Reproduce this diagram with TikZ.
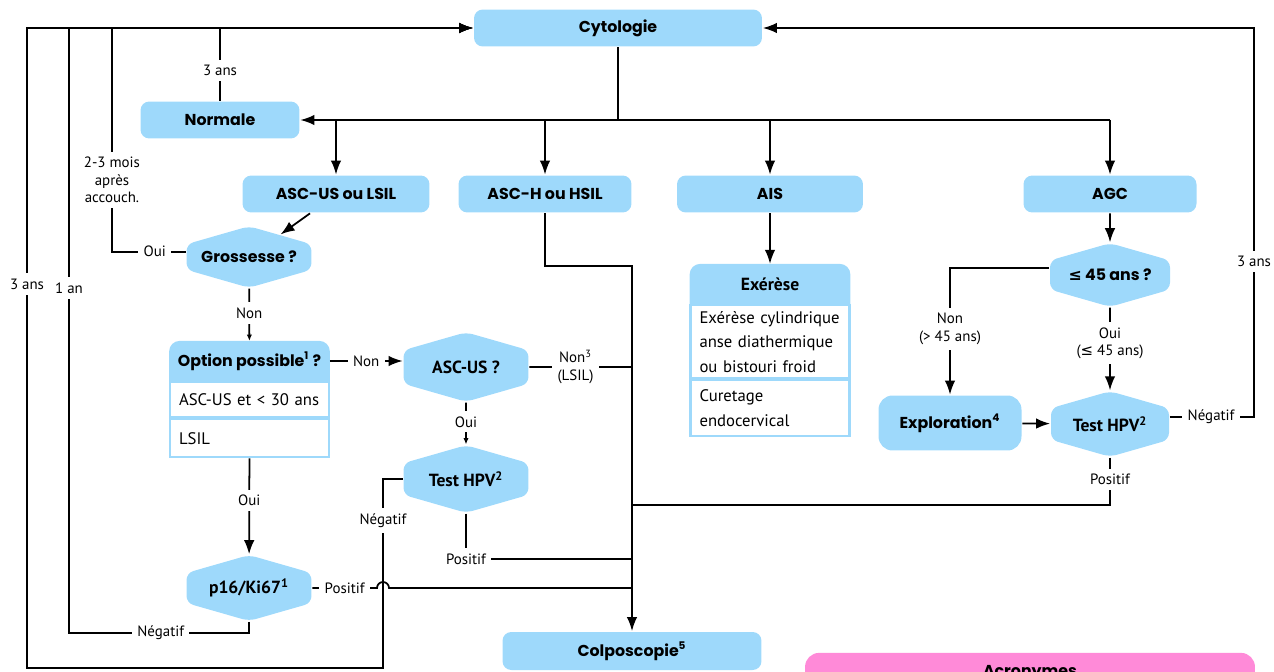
\documentclass[tikz,border=0pt]{standalone}
\usepackage{fontspec}
\setmainfont{PT Sans}
\newfontfamily\geofont{Poppins}
\newfontfamily\dejavu{DejaVu Sans}
\usetikzlibrary{arrows.meta,shapes.symbols,backgrounds}
\definecolor{cytoblue}{HTML}{9ED9FB}
\definecolor{acropink}{HTML}{FF8AD8}
\newcommand{\geobf}{\geofont\bfseries\fontsize{9}{11}\selectfont}
\newcommand{\condbf}{\bfseries\fontsize{10}{12}\selectfont}
\newcommand{\lblfont}{\fontsize{8.5}{10}\selectfont}
\newcommand{\rowfont}{\fontsize{9.5}{14}\selectfont}
\newcommand{\lesym}{{\dejavu ≤}}

\begin{document}
\begin{tikzpicture}[x=0.02cm, y=-0.02cm, line width=1pt]
\tikzstyle{box}=[fill=cytoblue, rounded corners=5pt, inner sep=0pt, minimum height=0.74cm, font=\geobf]
\tikzstyle{hexa}=[shape=signal, signal to=north and south, signal pointer angle=148, fill=cytoblue, rounded corners=4pt, inner sep=0pt, minimum width=2.5cm, minimum height=1.06cm, font=\condbf]
\tikzstyle{headbox}=[inner sep=0pt, minimum height=0.77cm]
\tikzstyle{rowbox}=[draw=cytoblue, line width=1.2pt, anchor=north, inner xsep=0.18cm, text width=2.82cm, align=left, font=\rowfont]
\tikzstyle{lbl}=[fill=white, inner sep=3pt, align=center, font=\lblfont]
\tikzstyle{arr}=[-{Latex[length=8pt,width=6pt]}]
\tikzstyle{arrs}=[-{Latex[length=3.5pt,width=3pt]}]
\useasboundingbox (0,0) rectangle (1274,672);

% boxes
\node[box, minimum width=5.76cm] (cyto) at (618,28) {Cytologie};
\node[box, minimum width=3.18cm] (normale) at (220,120) {Normale};
\foreach \place/\name/\txt/\boxw in {{(336,194)/ascus/ASC-US ou LSIL/3.74cm},
                                     {(545,194)/asch/ASC-H ou HSIL/3.46cm},
                                     {(770,194)/ais/AIS/3.72cm},
                                     {(1110,194)/agc/AGC/3.46cm}}
  \node[box, minimum width=\boxw] (\name) at \place {\txt};
\node[box, minimum width=2.86cm, minimum height=1.1cm, rounded corners=8pt] (exploration) at (950,423) {Exploration\textsuperscript{4}};
\node[box, minimum width=5.18cm, minimum height=0.76cm] (colpo) at (632,651) {Colposcopie\textsuperscript{5}};
\node[fill=acropink, rounded corners=8pt, anchor=north, minimum width=9cm, inner ysep=7pt, font=\geobf] (acro) at (1030,652) {Acronymes};

% decisions
\node[hexa, font=\geobf] (gross) at (249,257) {Grossesse ?};
\node[hexa] (ascusq) at (466,367) {ASC-US ?};
\node[hexa] (hpvmid) at (466,479) {Test HPV\textsuperscript{2}};
\node[hexa] (p16) at (249,588) {p16/Ki67\textsuperscript{1}};
\node[hexa, font=\geobf, minimum width=2.4cm] (age) at (1110,275) {\lesym{} 45 ans ?};
\node[hexa, minimum width=2.36cm] (hpvright) at (1110,424) {Test HPV\textsuperscript{2}};

% tables
\node[headbox, minimum width=3.18cm, font=\geobf] (opthead) at (249.5,361) {Option possible\textsuperscript{1} ?};
\node[rowbox, minimum height=0.7cm] (optrow1) at (opthead.south) {ASC-US et < 30 ans};
\node[rowbox, minimum height=0.76cm] (optrow2) at (optrow1.south) {LSIL};
\node[headbox, minimum width=3.18cm, font=\condbf] (exhead) at (770,284) {Exérèse};
\node[rowbox, minimum height=1.46cm] (exrow1) at (exhead.south) {Exérèse cylindrique\\anse diathermique\\ou bistouri froid};
\node[rowbox, minimum height=1.12cm] (exrow2) at (exrow1.south) {Curetage\\endocervical};
\begin{scope}[on background layer]
  \foreach \hd in {opthead,exhead}
    \fill[cytoblue] (\hd.south west) [rounded corners=6pt] -- (\hd.north west) -- (\hd.north east) [sharp corners] -- (\hd.south east) -- cycle;
\end{scope}

% connectors
\coordinate (split) at (618,120);
\coordinate (kink) at (632,266);
\coordinate (laneA) at (27,28);
\coordinate (laneB) at (69,28);
\coordinate (laneC) at (112,28);
\coordinate (laneR) at (1254,28);
\coordinate (hop) at (383,588);
\coordinate (hopin) at (377,588);
\draw (cyto) -- (split);
\draw[arr] (agc |- split) -- (normale);
\foreach \dest in {ascus,asch,ais,agc}
  \draw[arr] (\dest |- split) -- (\dest);

\draw[arr] (hpvmid.west) -| node[lbl, pos=0.61]{Négatif} (hop |- 0,668) -| node[lbl, pos=0.8]{3 ans} (laneA) -- (cyto);
\draw[arr] (p16) |- node[lbl, pos=0.745]{Négatif} (laneB |- 0,633) -- node[lbl, pos=0.57]{1 an} (laneB) -- (cyto);
\draw[arr] ([yshift=3pt]gross.west) -| node[lbl, pos=0.21]{Oui} node[lbl, pos=0.66]{2-3 mois\\après\\accouch.} (laneC) -- (cyto);
\draw[arr] (normale) -- node[lbl, pos=0.41]{3 ans} (normale |- cyto) -- (cyto);
\draw[arr] ([yshift=4pt]hpvright.east) -| node[lbl, pos=0.245]{Négatif} node[lbl, pos=0.7]{3 ans} (laneR) -- (cyto);

\draw[arr] (asch) |- (kink) -- (colpo);
\draw (ascusq) -- node[lbl, pos=0.45]{Non\textsuperscript{3}\\(LSIL)} (kink |- ascusq);
\draw (hpvmid) |- node[lbl]{Positif} (kink |- 0,559);
\draw (hpvright) |- node[lbl, pos=0.23]{Positif} (kink |- 0,505);
\draw (p16) -- node[lbl]{Positif} (hopin) arc[start angle=180, end angle=360, radius=6] -- (kink |- p16);

\draw[arr] ([xshift=-0.52cm]ascus.south) -- (gross);
\draw[arrs] (gross) -- node[lbl, pos=0.47]{Non} (opthead);
\draw[arr] (opthead.east) -- node[lbl]{Non} (opthead.east -| ascusq.west);
\draw[arr] (optrow2) -- node[lbl, pos=0.44]{Oui} (p16);
\draw[arrs] (ascusq) -- node[lbl, pos=0.46]{Oui} (hpvmid);
\draw[arr] (ais) -- (exhead);
\draw[arr] (agc) -- (age);
\draw[arr] ([yshift=4pt]age.west) -| node[lbl, pos=0.74]{Non\\(> 45 ans)} (exploration);
\draw[arr] (age) -- node[lbl, pos=0.43]{Oui\\(\lesym{} 45 ans)} (hpvright);
\draw[arr] (exploration) -- (hpvright);
\end{tikzpicture}
\end{document}
